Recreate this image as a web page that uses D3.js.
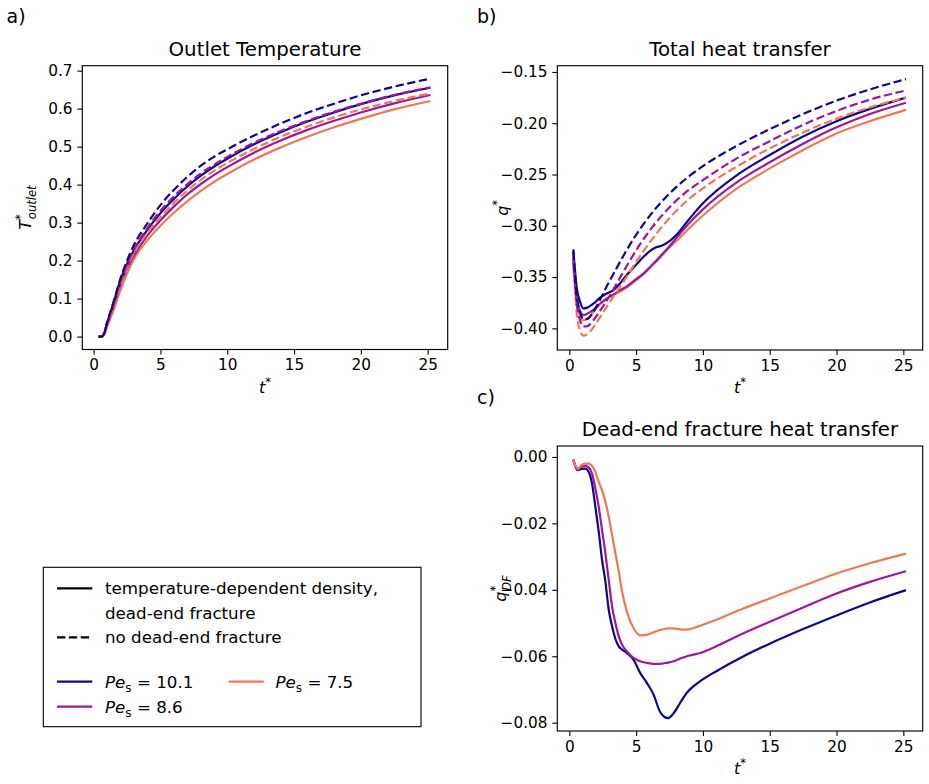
<!DOCTYPE html>
<html>
<head>
<meta charset="utf-8">
<script src="https://cdn.jsdelivr.net/npm/d3@7"></script>
<style>
  body { margin: 0; background: #fff; }
  svg { display: block; font-family: "DejaVu Sans", sans-serif; }
</style>
</head>
<body>
<div id="chart"></div>
<script>
// colours (plasma)
const colBlue = '#0d0887', colPurple = '#9c179e', colOrange = '#ed7953';

// a) outlet temperature
const tA = [0.37, 0.6, 0.8, 1, 1.5, 2, 2.5, 3, 4, 5, 6, 7, 8, 9, 10, 12, 14, 16, 18, 20, 22.5, 25.2];
const bdA = [0, 0, 0.01, 0.036, 0.092, 0.152, 0.2, 0.24, 0.297, 0.346, 0.386, 0.42, 0.449, 0.473, 0.493, 0.529, 0.561, 0.589, 0.613, 0.635, 0.658, 0.679];
const bsA = [0, 0, 0.01, 0.035, 0.09, 0.148, 0.192, 0.226, 0.28, 0.325, 0.362, 0.395, 0.423, 0.447, 0.468, 0.506, 0.538, 0.566, 0.59, 0.612, 0.635, 0.655];
const pdA = [0, 0, 0.009, 0.034, 0.088, 0.145, 0.19, 0.228, 0.285, 0.331, 0.369, 0.401, 0.429, 0.452, 0.473, 0.51, 0.541, 0.568, 0.592, 0.613, 0.636, 0.656];
const psA = [0, 0, 0.008, 0.031, 0.082, 0.136, 0.18, 0.212, 0.265, 0.306, 0.342, 0.374, 0.401, 0.425, 0.446, 0.484, 0.516, 0.544, 0.568, 0.59, 0.614, 0.636];
const odA = [0, 0, 0.008, 0.031, 0.082, 0.137, 0.182, 0.218, 0.272, 0.315, 0.352, 0.384, 0.412, 0.436, 0.457, 0.494, 0.526, 0.553, 0.577, 0.598, 0.62, 0.64];
const osA = [0, 0, 0.006, 0.026, 0.07, 0.122, 0.166, 0.203, 0.253, 0.292, 0.326, 0.356, 0.383, 0.407, 0.428, 0.466, 0.498, 0.526, 0.551, 0.573, 0.598, 0.62];

// b) total heat transfer
const tB = [0.3, 0.55, 0.8, 1.05, 1.3, 1.8, 2.3, 2.8, 3.3, 3.8, 4.3, 5, 5.5, 6, 6.5, 7, 7.5, 8, 9, 10, 12.5, 15, 17.5, 20, 22.5, 25.2];
const bsB = [-0.323, -0.36, -0.374, -0.3805, -0.38, -0.376, -0.37, -0.366, -0.3627, -0.356, -0.348, -0.338, -0.331, -0.325, -0.321, -0.319, -0.315, -0.309, -0.293, -0.278, -0.251, -0.231, -0.213, -0.198, -0.186, -0.175];
const psB = [-0.333, -0.37, -0.383, -0.387, -0.386, -0.382, -0.376, -0.371, -0.367, -0.3627, -0.359, -0.352, -0.347, -0.341, -0.334, -0.327, -0.32, -0.312, -0.297, -0.284, -0.258, -0.238, -0.22, -0.204, -0.191, -0.18];
const osB = [-0.339, -0.375, -0.388, -0.392, -0.391, -0.384, -0.376, -0.371, -0.3675, -0.364, -0.36, -0.353, -0.348, -0.341, -0.335, -0.328, -0.321, -0.315, -0.302, -0.29, -0.264, -0.244, -0.226, -0.21, -0.198, -0.187];
const bdB = [-0.325, -0.368, -0.384, -0.391, -0.391, -0.384, -0.372, -0.359, -0.347, -0.335, -0.3235, -0.3088, -0.2993, -0.2905, -0.2825, -0.2753, -0.2685, -0.2623, -0.2513, -0.2418, -0.2223, -0.2058, -0.191, -0.178, -0.167, -0.157];
const pdB = [-0.33, -0.375, -0.392, -0.398, -0.398, -0.392, -0.383, -0.373, -0.362, -0.3505, -0.339, -0.324, -0.314, -0.305, -0.2965, -0.289, -0.282, -0.2755, -0.2645, -0.2555, -0.2345, -0.2175, -0.2015, -0.188, -0.177, -0.168];
const odB = [-0.335, -0.385, -0.402, -0.407, -0.406, -0.399, -0.389, -0.379, -0.369, -0.3595, -0.3495, -0.335, -0.3255, -0.3165, -0.308, -0.3, -0.2925, -0.2855, -0.2735, -0.2635, -0.2425, -0.2245, -0.209, -0.1955, -0.1845, -0.175];

// c) dead-end fracture heat transfer
const tC = [0.3, 0.63, 0.9, 1.2, 1.45, 1.7, 1.95, 2.2, 2.45, 2.7, 2.95, 3.2, 3.45, 3.7, 3.95, 4.3, 4.8, 5.3, 5.8, 6.3, 6.8, 7.1, 7.4, 7.8, 8.3, 8.8, 9.3, 9.8, 11, 12.8, 15, 17.5, 20, 22.5, 25.2];
const bC = [-0.0008, -0.004, -0.0036, -0.0035, -0.0045, -0.008, -0.015, -0.0225, -0.031, -0.0375, -0.046, -0.051, -0.0548, -0.057, -0.058, -0.059, -0.061, -0.065, -0.068, -0.0715, -0.0768, -0.0782, -0.0786, -0.0772, -0.074, -0.071, -0.069, -0.0675, -0.0645, -0.0605, -0.0562, -0.0518, -0.0477, -0.0438, -0.0401];
const pC = [-0.0008, -0.0038, -0.003, -0.0027, -0.0032, -0.005, -0.0095, -0.015, -0.022, -0.029, -0.037, -0.045, -0.05, -0.054, -0.0565, -0.0585, -0.0605, -0.0615, -0.062, -0.0623, -0.0623, -0.0621, -0.0619, -0.0615, -0.0607, -0.06, -0.0595, -0.059, -0.057, -0.0535, -0.0496, -0.0453, -0.0411, -0.0376, -0.0344];
const oC = [-0.0008, -0.0035, -0.0025, -0.002, -0.002, -0.0027, -0.0045, -0.0075, -0.01, -0.0135, -0.018, -0.0235, -0.029, -0.0345, -0.0405, -0.0465, -0.0515, -0.0537, -0.0535, -0.0528, -0.0521, -0.0518, -0.0516, -0.0516, -0.0519, -0.052, -0.0515, -0.0508, -0.049, -0.046, -0.0426, -0.0388, -0.0351, -0.032, -0.0291];

// ticks
const xTicks = [0, 5, 10, 15, 20, 25];
const yTicksA = [0, 0.1, 0.2, 0.3, 0.4, 0.5, 0.6, 0.7];
const yTicksB = [-0.40, -0.35, -0.30, -0.25, -0.20, -0.15];
const yTicksC = [0, -0.02, -0.04, -0.06, -0.08];

const W = 929, H = 784;
const tickFont = 15.3, titleFont = 19.8, dash = '8.3,3.6';

const svg = d3.select('#chart').append('svg')
  .attr('width', W).attr('height', H)
  .attr('viewBox', `0 0 ${W} ${H}`);
svg.append('rect').attr('width', W).attr('height', H).attr('fill', '#fff');

function drawPanel(opt){
  const x = d3.scaleLinear(opt.xDom, [opt.left, opt.right]);
  const y = d3.scaleLinear(opt.yDom, [opt.bottom, opt.top]);
  const g = svg.append('g');
  const line = d3.line()
    .x(d => x(d[0])).y(d => y(d[1]))
    .curve(d3.curveMonotoneX);

  opt.series.forEach(s => {
    g.append('path')
      .attr('d', line(d3.zip(s.t, s.v)))
      .attr('fill', 'none')
      .attr('stroke', s.color)
      .attr('stroke-width', 2.2)
      .attr('stroke-dasharray', s.dashed ? dash : null);
  });

  // axes
  const ax = g.append('g')
    .attr('transform', `translate(0,${opt.bottom})`)
    .call(d3.axisBottom(x).tickValues(xTicks).tickFormat(d3.format('d'))
      .tickSize(5).tickPadding(4.8));
  const ay = g.append('g')
    .attr('transform', `translate(${opt.left},0)`)
    .call(d3.axisLeft(y).tickValues(opt.yTicks).tickFormat(d3.format(opt.yFmt))
      .tickSize(5).tickPadding(4.8));
  [ax, ay].forEach(a => {
    a.select('.domain').remove();
    a.attr('font-size', tickFont).attr('font-family', '"DejaVu Sans", sans-serif');
    a.selectAll('line').attr('stroke', '#000').attr('stroke-width', 1.1);
    a.selectAll('text').attr('fill', '#000');
  });

  // frame
  g.append('rect')
    .attr('x', opt.left).attr('y', opt.top)
    .attr('width', opt.right - opt.left).attr('height', opt.bottom - opt.top)
    .attr('fill', 'none').attr('stroke', '#000').attr('stroke-width', 1.15);

  // title
  g.append('text')
    .attr('x', (opt.left + opt.right) / 2).attr('y', opt.top - 10)
    .attr('text-anchor', 'middle').attr('font-size', titleFont)
    .text(opt.title);

  // x label t*
  const xl = g.append('text')
    .attr('x', (opt.left + opt.right) / 2).attr('y', opt.bottom + 43)
    .attr('text-anchor', 'middle').attr('font-size', 16);
  xl.append('tspan').attr('font-style', 'italic').text('t');
  xl.append('tspan').attr('dy', -7).attr('font-size', 11.5).text('*');

  // y label
  const yl = g.append('text')
    .attr('transform', `translate(${opt.ylabX},${(opt.top + opt.bottom) / 2})rotate(-90)`)
    .attr('text-anchor', 'middle').attr('font-size', 16);
  yl.append('tspan').attr('font-style', 'italic').text(opt.ylab[0]);
  yl.append('tspan').attr('dy', -7).attr('font-size', 11.5).text('*');
  if (opt.ylab[1]) {
    yl.append('tspan').attr('dx', -5).attr('dy', 12).attr('font-size', 11.5)
      .attr('font-style', 'italic').text(opt.ylab[1]);
  }

  // panel letter
  svg.append('text').attr('x', opt.letterX).attr('y', opt.letterY)
    .attr('font-size', 19).text(opt.letter);
}

drawPanel({
  left: 82.3, right: 447.7, top: 65.7, bottom: 349.5,
  xDom: [-0.85, 26.5], yDom: [-0.034, 0.713],
  yTicks: yTicksA, yFmt: '.1f',
  title: 'Outlet Temperature', ylab: ['T', 'outlet'], ylabX: 31,
  letter: 'a)', letterX: 6.5, letterY: 23,
  series: [
    {t: tA, v: osA, color: colOrange, dashed: false},
    {t: tA, v: psA, color: colPurple, dashed: false},
    {t: tA, v: bsA, color: colBlue, dashed: false},
    {t: tA, v: odA, color: colOrange, dashed: true},
    {t: tA, v: pdA, color: colPurple, dashed: true},
    {t: tA, v: bdA, color: colBlue, dashed: true}
  ]
});

drawPanel({
  left: 557.3, right: 922.7, top: 65.7, bottom: 350,
  xDom: [-0.9, 26.45], yDom: [-0.4211, -0.1439],
  yTicks: yTicksB, yFmt: '.2f',
  title: 'Total heat transfer', ylab: ['q'], ylabX: 508,
  letter: 'b)', letterX: 477, letterY: 23,
  series: [
    {t: tB, v: osB, color: colOrange, dashed: false},
    {t: tB, v: psB, color: colPurple, dashed: false},
    {t: tB, v: bsB, color: colBlue, dashed: false},
    {t: tB, v: odB, color: colOrange, dashed: true},
    {t: tB, v: pdB, color: colPurple, dashed: true},
    {t: tB, v: bdB, color: colBlue, dashed: true}
  ]
});

drawPanel({
  left: 557.3, right: 922.7, top: 446, bottom: 731,
  xDom: [-0.9, 26.45], yDom: [-0.0825, 0.0033],
  yTicks: yTicksC, yFmt: '.2f',
  title: 'Dead-end fracture heat transfer', ylab: ['q', 'DF'], ylabX: 506,
  letter: 'c)', letterX: 477, letterY: 404,
  series: [
    {t: tC, v: bC, color: colBlue, dashed: false},
    {t: tC, v: pC, color: colPurple, dashed: false},
    {t: tC, v: oC, color: colOrange, dashed: false}
  ]
});

// legend
const leg = svg.append('g').attr('font-size', 16.7);
leg.append('rect')
  .attr('x', 43.3).attr('y', 567.3).attr('width', 377.7).attr('height', 159.4)
  .attr('fill', '#fff').attr('stroke', '#000').attr('stroke-width', 1.1);

const legRows = [
  {y: 588.3, color: '#000', dashed: false, x: 57, tx: 105, text: 'temperature-dependent density,'},
  {y: 613.3, color: null, x: 57, tx: 105, text: 'dead-end fracture'},
  {y: 637.3, color: '#000', dashed: true, x: 57, tx: 105, text: 'no dead-end fracture'},
  {y: 681.7, color: colBlue, x: 57, tx: 105, pe: '10.1'},
  {y: 681.7, color: colOrange, x: 228.5, tx: 275.5, pe: '7.5'},
  {y: 706.7, color: colPurple, x: 57, tx: 105, pe: '8.6'}
];
legRows.forEach(r => {
  if (r.color) {
    leg.append('line')
      .attr('x1', r.x).attr('x2', r.x + 35.3).attr('y1', r.y).attr('y2', r.y)
      .attr('stroke', r.color).attr('stroke-width', 2.2)
      .attr('stroke-dasharray', r.dashed ? dash : null);
  }
  const t = leg.append('text').attr('x', r.tx).attr('y', r.y + 5.9);
  if (r.pe) {
    t.append('tspan').attr('font-style', 'italic').text('Pe');
    t.append('tspan').attr('dy', 4).attr('font-size', 12).text('s');
    t.append('tspan').attr('dy', -4).text(` = ${r.pe}`);
  } else {
    t.text(r.text);
  }
});
</script>
</body>
</html>
